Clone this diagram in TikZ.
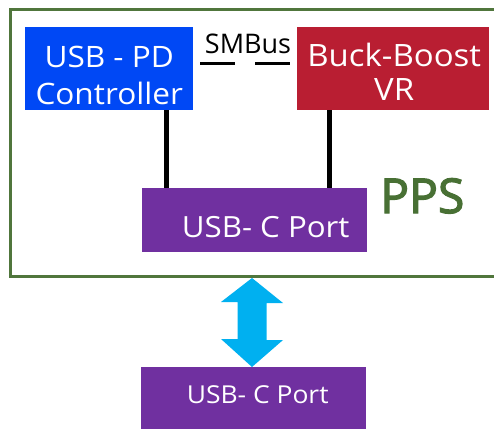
\documentclass[tikz,border=0pt]{standalone}
\usepackage{fontspec}
\setmainfont{Open Sans}
\newfontfamily\boxfont{Open Sans}[FakeStretch=1.07]
\newfontfamily\ppsfont{Open Sans}[FakeBold=2.5]
\usetikzlibrary{calc}
\definecolor{framegreen}{RGB}{80,118,60}
\definecolor{ppsgreen}{RGB}{72,112,52}
\definecolor{pdblue}{RGB}{0,72,245}
\definecolor{vrred}{RGB}{185,30,50}
\definecolor{portpurple}{RGB}{112,48,160}
\definecolor{arrowcyan}{RGB}{0,176,240}
\tikzset{
  blk/.style={draw=none, inner sep=0pt, anchor=north west},
  boxtext/.style={text=white, inner sep=0pt, align=center, font=\boxfont\fontsize{29.5}{37}\selectfont},
  wire/.style={draw=black, line width=5pt},
  smbus/.style={draw=black, line width=3pt, dash pattern=on 35pt off 20pt},
}
\begin{document}
\begin{tikzpicture}[x=1pt,y=-1pt]
\useasboundingbox (0,0) rectangle (494,428);
\fill[white] (0,0) rectangle (494,428);
\draw[framegreen, line width=3pt] (10.5,9.5) rectangle (520,276.5);
\coordinate (frameb) at (252,276.5);

\node[blk, fill=pdblue, minimum width=168pt, minimum height=83pt] (pd) at (25,27) {};
\node[boxtext] (pdt) at ($(pd.center)+(0,7)$) {USB - PD\\Controller};

\node[blk, fill=vrred, minimum width=192pt, minimum height=83pt] (vr) at (297,27) {};
\node[boxtext, font=\boxfont\fontsize{30.8}{34}\selectfont] (vrt) at ($(vr.center)+(1,3.5)$) {Buck-Boost\\VR};

\node[blk, fill=portpurple, minimum width=225pt, minimum height=64pt] (port) at (142,188) {};
\node[boxtext, font=\boxfont\fontsize{29.2}{37}\selectfont] (portt) at ($(port.center)+(11,7)$) {USB- C Port};

\node[blk, fill=portpurple, minimum width=225pt, minimum height=70pt] (port2) at (141,367) {};
\node[boxtext, font=\boxfont\fontsize{24.7}{37}\selectfont] (port2t) at ($(port2.north)+(4,28)$) {USB- C Port};

\node[inner sep=0pt, anchor=base, font=\fontsize{27}{30}\selectfont] (sm) at (248,53) {SMBus};
\node[inner sep=0pt, anchor=base west, text=ppsgreen, font=\ppsfont\fontsize{48}{50}\selectfont] (pps) at (380,213) {PPS};

\draw[wire] ($(pd.south west)+(141,0)$) -- ($(port.north west)+(24,0)$);
\draw[wire] ($(vr.south west)+(32,0)$) -- ($(port.north west)+(187,0)$);
\draw[smbus] ($(pd.east)+(7,-5.5)$) -- ($(vr.west)+(-7,-5.5)$);

\fill[arrowcyan] (frameb) ++(0,1.5) -- ++(31,25) -- ++(-16.5,0) -- ++(0,37) -- ++(16.5,0)
  -- (port2.north -| frameb) -- ++(-31,-28) -- ++(16.5,0) -- ++(0,-37) -- ++(-16.5,0) -- cycle;
\end{tikzpicture}
\end{document}
